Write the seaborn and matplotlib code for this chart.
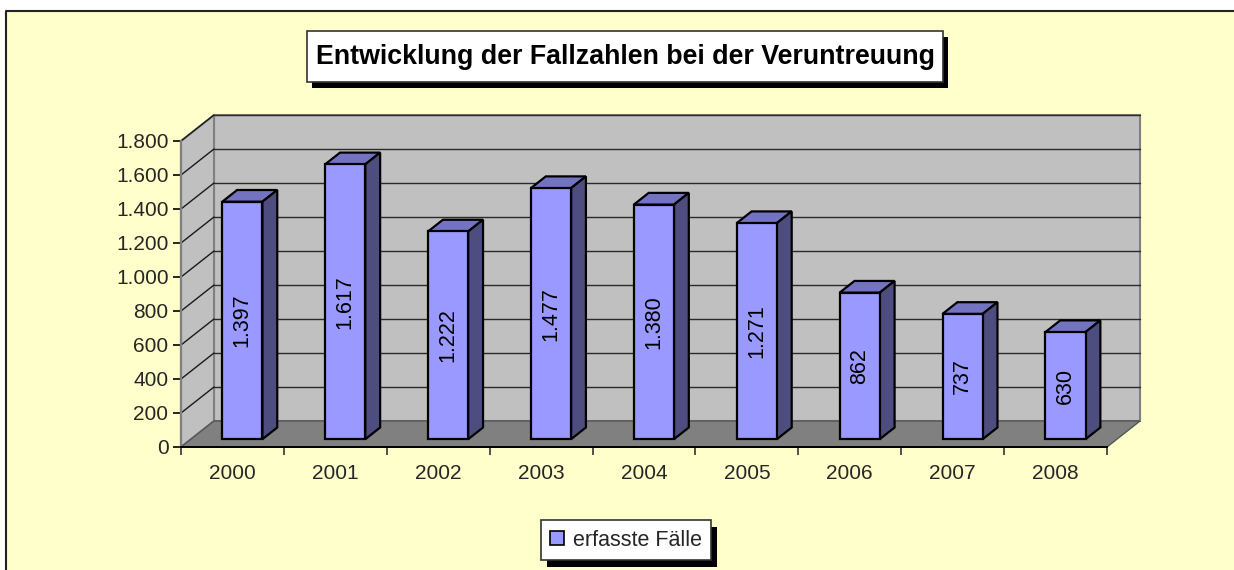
import matplotlib
matplotlib.use("Agg")
import matplotlib.pyplot as plt
from matplotlib.patches import Polygon, Rectangle
from matplotlib.lines import Line2D
from matplotlib.transforms import IdentityTransform
import seaborn as sns
import pandas as pd

# ---- data ----
years = ["2000", "2001", "2002", "2003", "2004", "2005", "2006", "2007", "2008"]
cases = [1397, 1617, 1222, 1477, 1380, 1271, 862, 737, 630]
series_label = "erfasste Fälle"
title = "Entwicklung der Fallzahlen bei der Veruntreuung"
yticks = [0, 200, 400, 600, 800, 1000, 1200, 1400, 1600, 1800]

df = pd.DataFrame({"Jahr": years, "Fälle": cases})

sns.set_theme(style="white")
plt.rcParams["font.family"] = ["Liberation Sans", "DejaVu Sans"]

W, H = 1234, 570
fig = plt.figure(figsize=(W / 100, H / 100), dpi=100, facecolor="white")

# chart area background + border (only top and left visible)
fig.add_artist(Rectangle((6, 0), W - 6, H - 11, transform=IdentityTransform(),
                         facecolor="#FFFFCC", edgecolor="none", zorder=0))
fig.add_artist(Line2D([6, 6, W], [0, H - 11, H - 11], transform=IdentityTransform(),
                      color="#222222", linewidth=1.5, zorder=0.1))

ax = fig.add_axes([181 / W, (H - 447) / H, 926 / W, 306 / H])
ax.set_facecolor("none")
ax.set_xlim(-0.5, 8.5)
ax.set_ylim(0, 1800)

# depth of the 3D box in data units
DX = 0.3207
DY = 153.0
n = len(years)
xl, xr = -0.5, n - 0.5
ytop = 1800

wall = "#C0C0C0"
floor = "#808080"
edge = "#808080"

# back wall
ax.add_patch(Polygon([(xl + DX, DY), (xr + DX, DY), (xr + DX, ytop + DY), (xl + DX, ytop + DY)],
                     closed=True, facecolor=wall, edgecolor=edge, linewidth=1.5, zorder=0.5, clip_on=False))
# side wall
ax.add_patch(Polygon([(xl, 0), (xl + DX, DY), (xl + DX, ytop + DY), (xl, ytop)],
                     closed=True, facecolor=wall, edgecolor=edge, linewidth=1.5, zorder=0.6, clip_on=False))
# floor
ax.add_patch(Polygon([(xl, 0), (xr, 0), (xr + DX, DY), (xl + DX, DY)],
                     closed=True, facecolor=floor, edgecolor="#555555", linewidth=1.0, zorder=0.7, clip_on=False))

# gridlines on back and side wall
for v in yticks[1:]:
    ax.plot([xl + DX, xr + DX], [v + DY, v + DY], color="#2a2a2a", linewidth=1.0, zorder=0.8, clip_on=False)
    ax.plot([xl, xl + DX], [v, v + DY], color="#1a1a1a", linewidth=1.0, zorder=0.8, clip_on=False)

# bars (front faces)
sns.barplot(data=df, x="Jahr", y="Fälle", color="#9999FF", saturation=1, width=0.39,
            edgecolor="black", linewidth=1.6, label=series_label, ax=ax, zorder=3)

f0, f1 = 0.30, 0.75
bx, by = f0 * DX, f0 * DY
ddx, ddy = (f1 - f0) * DX, (f1 - f0) * DY
bars = ax.containers[0]
for p in bars.patches:
    p.set_x(p.get_x() + bx)
    p.set_y(p.get_y() + by)
    p.set_clip_on(False)
    x0, w = p.get_x(), p.get_width()
    y0, h = p.get_y(), p.get_height()
    top = [(x0, y0 + h), (x0 + w, y0 + h), (x0 + w + ddx, y0 + h + ddy), (x0 + ddx, y0 + h + ddy)]
    side = [(x0 + w, y0), (x0 + w + ddx, y0 + ddy), (x0 + w + ddx, y0 + h + ddy), (x0 + w, y0 + h)]
    ax.add_patch(Polygon(top, closed=True, facecolor="#7373C2", edgecolor="black",
                         linewidth=1.6, zorder=2.9, clip_on=False))
    ax.add_patch(Polygon(side, closed=True, facecolor="#4D4D80", edgecolor="black",
                         linewidth=1.6, zorder=2.9, clip_on=False))

ax.bar_label(bars, labels=[f"{v:,}".replace(",", ".") for v in cases], label_type="center",
             rotation=90, fontsize=15.5, color="black", zorder=4)

# axes styling
for s in ["top", "right"]:
    ax.spines[s].set_visible(False)
ax.spines["left"].set_color("#808080")
ax.spines["left"].set_linewidth(1.6)
ax.spines["bottom"].set_color("black")
ax.spines["bottom"].set_linewidth(1.4)
ax.spines["left"].set_zorder(1)
ax.spines["bottom"].set_zorder(1)

ax.set_yticks(yticks)
ax.set_yticklabels([f"{v:,}".replace(",", ".") for v in yticks])
ax.tick_params(axis="y", which="major", direction="out", length=6, width=1.2, color="black",
               labelsize=15, pad=3, left=True)
ax.set_xticks(range(n))
ax.set_xticklabels(years)
ax.set_xticks([i - 0.5 for i in range(n + 1)], minor=True)
ax.tick_params(axis="x", which="major", length=0, labelsize=15, pad=12)
ax.tick_params(axis="x", which="minor", direction="out", length=6, width=1.2, color="#333333", bottom=True)
ax.set_xlabel("")
ax.set_ylabel("")

# title box with shadow
fig.add_artist(Rectangle((312, H - 37 - 51), 636, 51, transform=IdentityTransform(),
                         facecolor="black", edgecolor="none", zorder=5))
fig.add_artist(Rectangle((307, H - 31 - 51), 636, 51, transform=IdentityTransform(),
                         facecolor="white", edgecolor="#333333", linewidth=1.2, zorder=6))
fig.text(625 / W, (H - 57) / H, title, ha="center", va="center", fontsize=19.3,
         fontweight="bold", color="black", zorder=7)

# legend with shadow
leg = ax.legend(loc="center", bbox_to_anchor=(626 / W, (H - 540) / H), bbox_transform=fig.transFigure,
                frameon=True, fancybox=False, edgecolor="#333333", framealpha=1, fontsize=15.5,
                handlelength=0.65, handleheight=0.65, handletextpad=0.4, borderpad=0.45,
                borderaxespad=0)
leg.get_frame().set_linewidth(1.2)
leg.set_zorder(6)
for hnd in leg.legend_handles:
    hnd.set_edgecolor("black")
    hnd.set_linewidth(1.2)
fig.canvas.draw()
bb = leg.get_window_extent()
shadow = Rectangle((bb.x0 + 6, bb.y0 - 7), bb.width, bb.height, transform=IdentityTransform(),
                   facecolor="black", edgecolor="none", zorder=5.5, clip_on=False)
ax.add_artist(shadow)

fig.savefig("out.png", dpi=100, facecolor=fig.get_facecolor())
